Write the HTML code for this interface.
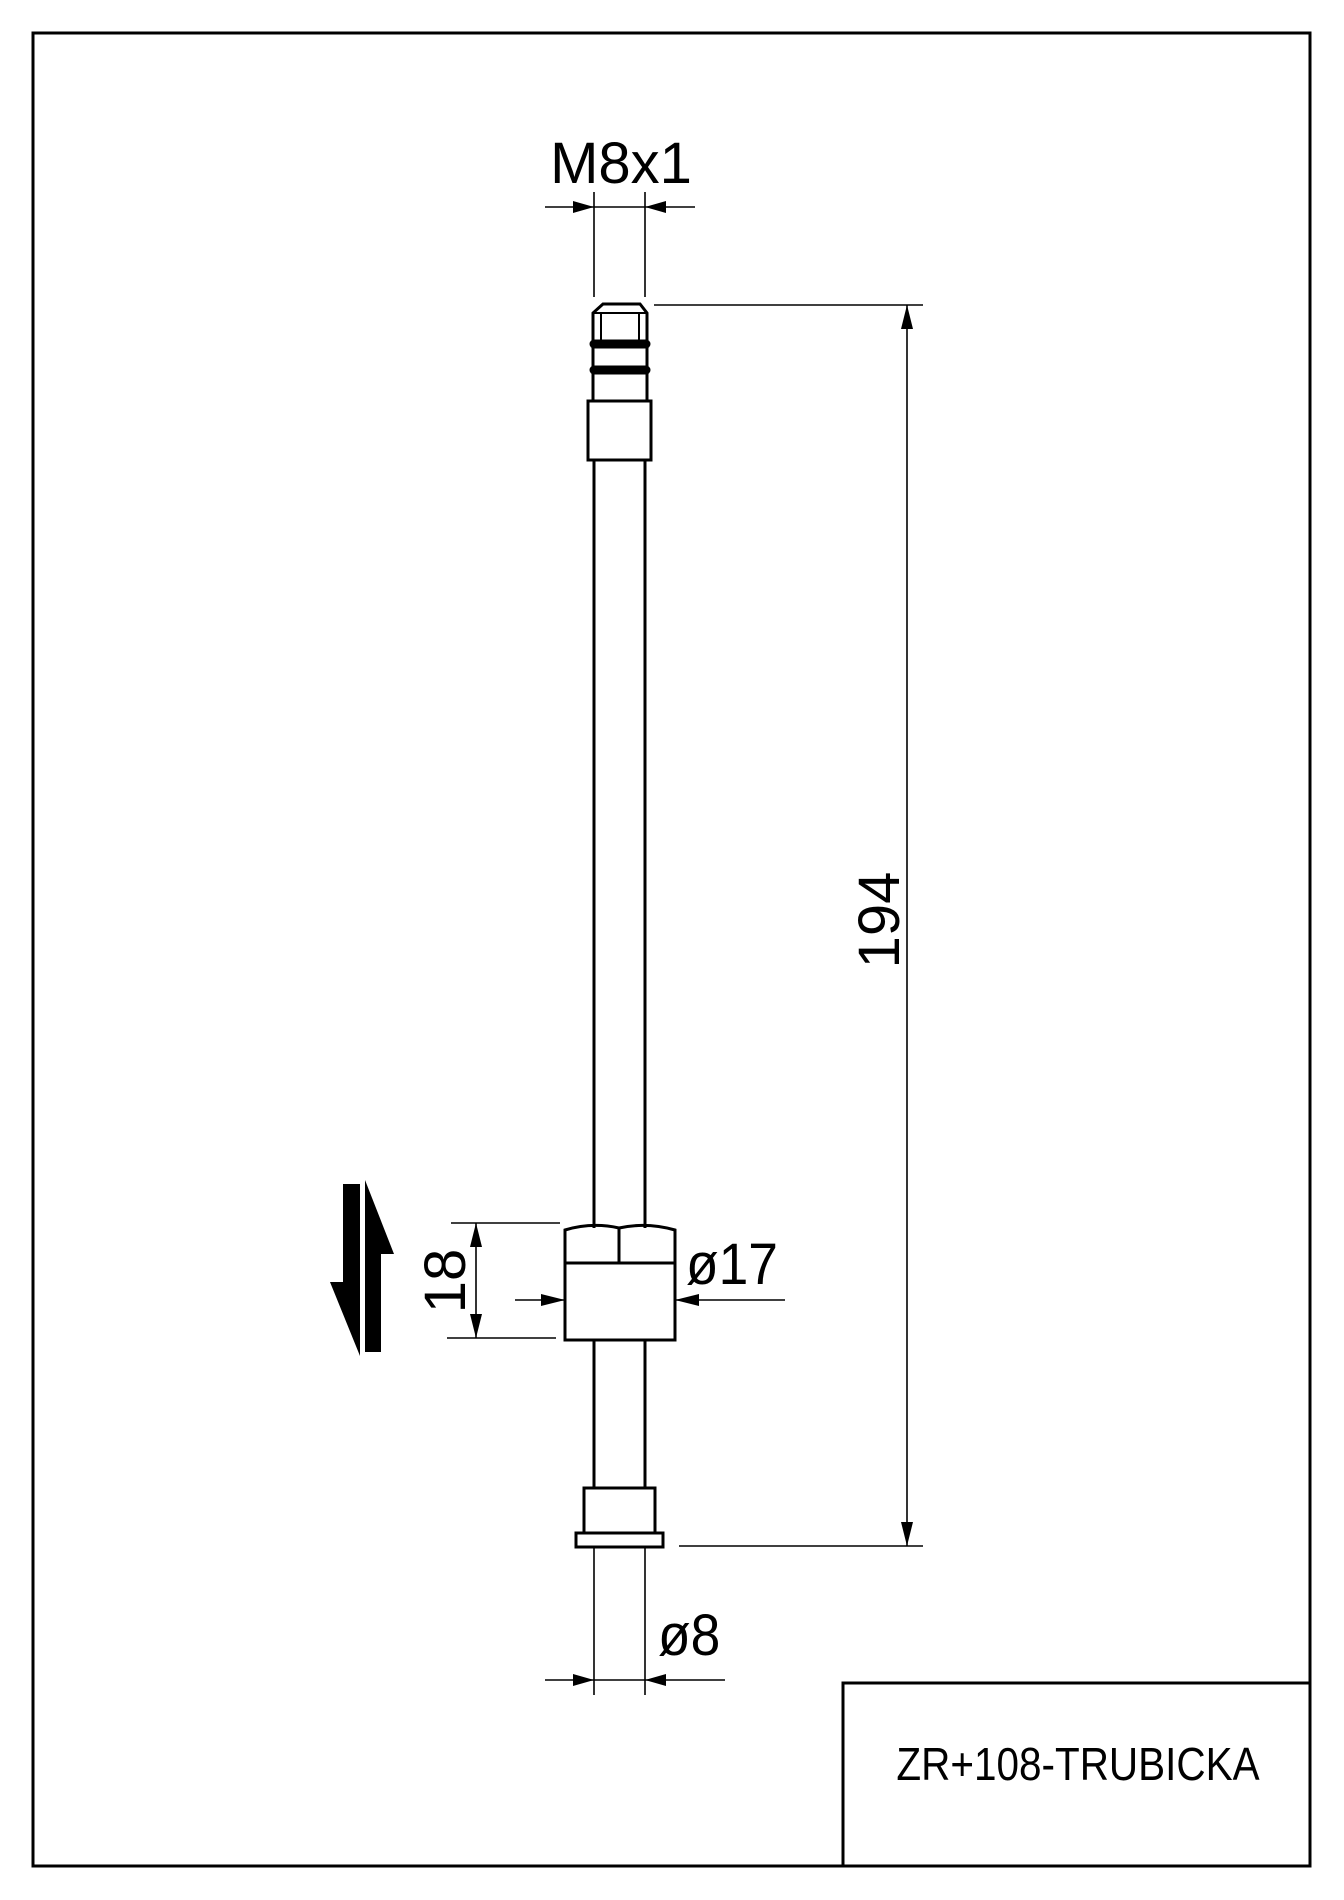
<!DOCTYPE html>
<html><head><style>html,body{margin:0;padding:0;background:#fff}svg{display:block}</style></head><body>
<svg width="1344" height="1900" viewBox="0 0 1344 1900" xmlns="http://www.w3.org/2000/svg" font-family="Liberation Sans, sans-serif">
<rect width="1344" height="1900" fill="#fff"/>
<rect x="33" y="33" width="1277" height="1833" fill="none" stroke="#000" stroke-width="3"/>
<rect x="843" y="1683" width="467" height="183" fill="none" stroke="#000" stroke-width="3"/>
<text x="1078" y="1780" font-size="46" text-anchor="middle" transform="translate(1078 0) scale(0.88 1) translate(-1078 0)">ZR+108-TRUBICKA</text>
<g fill="none" stroke="#000" stroke-width="3">
<path d="M593 340 L593 313 L603 304 L640 304 L647 313 L647 340"/>
<line x1="601" y1="313" x2="601" y2="340" stroke-width="2"/>
<line x1="639" y1="313" x2="639" y2="340" stroke-width="2"/>
<line x1="593" y1="313" x2="647" y2="313" stroke-width="2"/>
<line x1="593" y1="340" x2="593" y2="401"/>
<line x1="647" y1="340" x2="647" y2="401"/>
<rect x="588" y="401" width="63" height="59"/>
<line x1="594" y1="460" x2="594" y2="1228"/>
<line x1="645" y1="460" x2="645" y2="1228"/>
<path d="M565 1340 L565 1230 Q592 1222 619 1228 Q646 1222 675 1230 L675 1340 Z"/>
<line x1="565" y1="1263" x2="675" y2="1263"/>
<line x1="619" y1="1228" x2="619" y2="1263"/>
<line x1="594" y1="1340" x2="594" y2="1488"/>
<line x1="645" y1="1340" x2="645" y2="1488"/>
<rect x="584" y="1488" width="71" height="45"/>
<rect x="576" y="1533" width="87" height="14"/>
</g>
<line x1="594" y1="344" x2="646" y2="344" stroke="#000" stroke-width="9" stroke-linecap="round"/>
<line x1="594" y1="370" x2="646" y2="370" stroke="#000" stroke-width="9" stroke-linecap="round"/>
<g stroke="#000" stroke-width="1.6" fill="none">
<line x1="594" y1="192" x2="594" y2="297"/>
<line x1="645" y1="192" x2="645" y2="297"/>
<line x1="545" y1="207" x2="695" y2="207"/>
<line x1="654" y1="305" x2="923" y2="305"/>
<line x1="679" y1="1546" x2="923" y2="1546"/>
<line x1="907" y1="305" x2="907" y2="1546"/>
<line x1="451" y1="1223" x2="560" y2="1223"/>
<line x1="447" y1="1338" x2="556" y2="1338"/>
<line x1="476" y1="1223" x2="476" y2="1338"/>
<line x1="515" y1="1300" x2="565" y2="1300"/>
<line x1="675" y1="1300" x2="785" y2="1300"/>
<line x1="594" y1="1547" x2="594" y2="1695"/>
<line x1="645" y1="1547" x2="645" y2="1695"/>
<line x1="545" y1="1680" x2="725" y2="1680"/>
</g>
<g fill="#000">
<polygon points="594,207 573,201 573,213"/>
<polygon points="645,207 666,201 666,213"/>
<polygon points="907,305 901,329 913,329"/>
<polygon points="907,1546 901,1522 913,1522"/>
<polygon points="476,1223 470,1247 482,1247"/>
<polygon points="476,1338 470,1314 482,1314"/>
<polygon points="565,1300 541,1294 541,1306"/>
<polygon points="675,1300 699,1294 699,1306"/>
<polygon points="594,1680 573,1674 573,1686"/>
<polygon points="645,1680 666,1674 666,1686"/>
<rect x="343" y="1184" width="17" height="98"/>
<polygon points="330,1282 360,1282 360,1356"/>
<rect x="365" y="1254" width="16" height="98"/>
<polygon points="365,1180 365,1254 394,1254"/>
</g>
<g font-size="58" fill="#000">
<text x="621" y="183" text-anchor="middle">M8x1</text>
<text x="686" y="1284" transform="translate(686 0) scale(0.92 1) translate(-686 0)">ø17</text>
<text x="658" y="1655" transform="translate(658 0) scale(0.92 1) translate(-658 0)">ø8</text>
<text transform="translate(465 1281) rotate(-90)" text-anchor="middle">18</text>
<text transform="translate(899 920) rotate(-90)" text-anchor="middle">194</text>
</g>
</svg>
</body></html>
